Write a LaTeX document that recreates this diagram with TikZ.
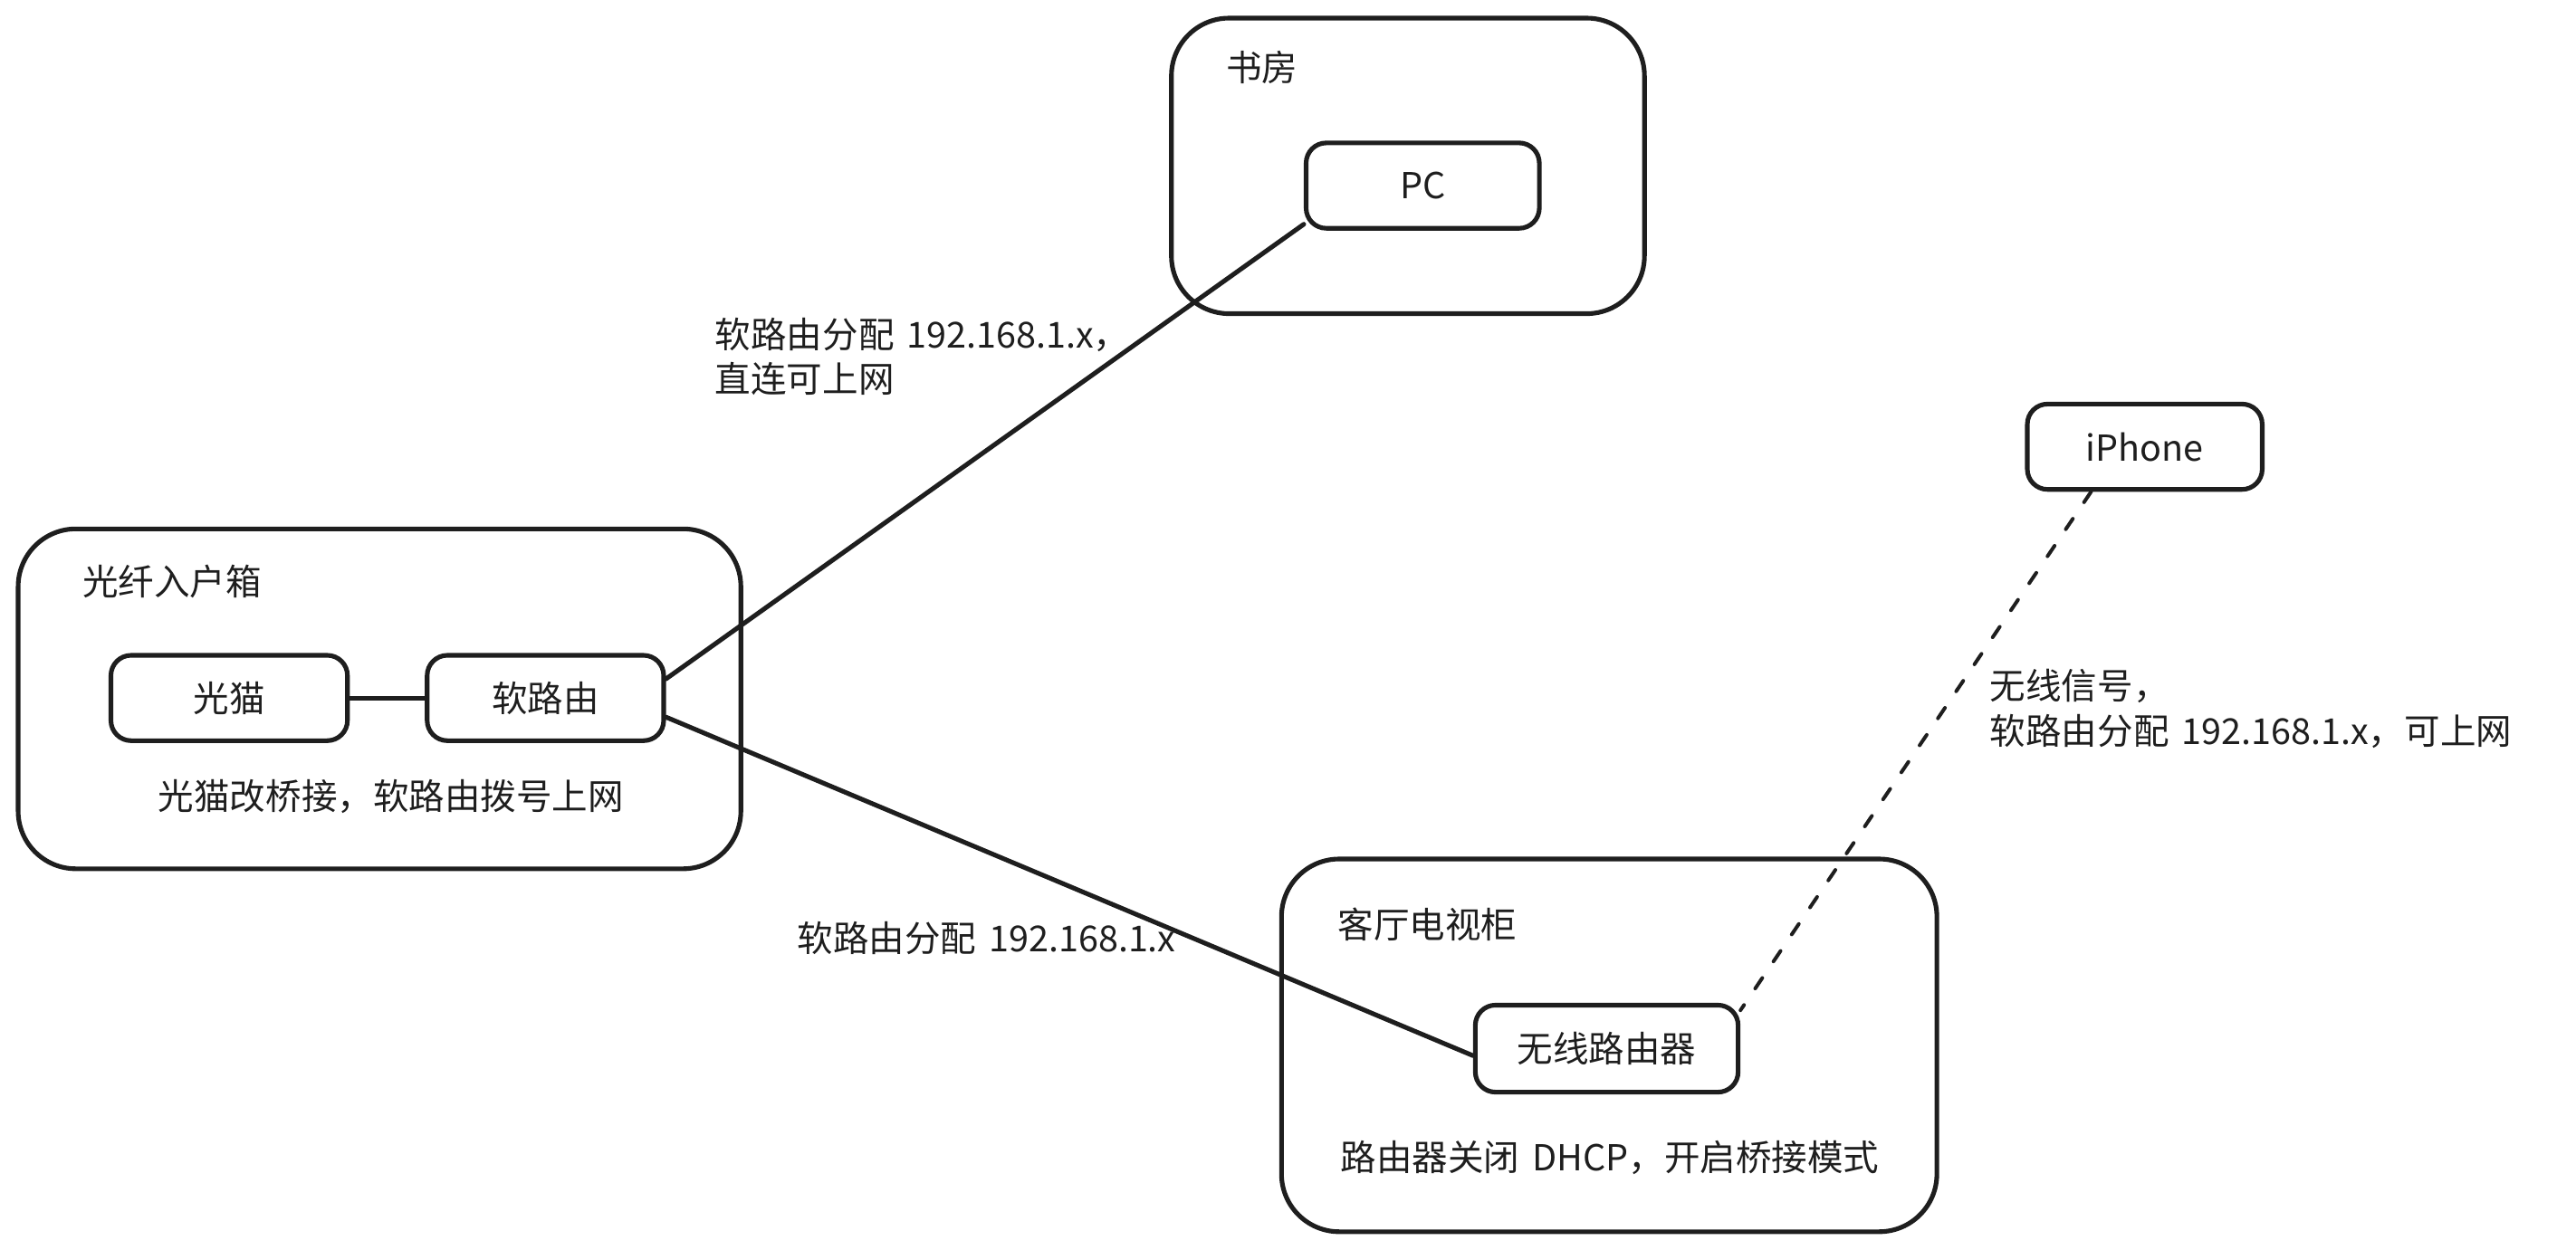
\documentclass[tikz,border=0pt]{standalone}
\usepackage{fontspec}
\setmainfont[WordSpace=1.6]{Noto Sans CJK SC}
\usetikzlibrary{positioning}
\definecolor{inkcolor}{HTML}{1E1E1E}
\tikzset{
      link/.style = {draw=inkcolor, line width=1.6pt, line cap=round},   % <--- solid cable
     radio/.style = {link, line width=1.25pt, dash pattern=on 4.4pt off 6.9pt},
      base/.style = {draw=inkcolor, line width=1.6pt, font=\fontsize{12.4}{15}\selectfont, text=inkcolor},
    device/.style = {base, rounded corners=7pt, minimum width=#1, minimum height=1.04cm, align=center},
    device/.default=2.88cm,
      room/.style = {draw=inkcolor, line width=1.6pt, rounded corners=20pt},
      note/.style = {font=\fontsize{12.4}{15.6}\selectfont, text=inkcolor, align=left, inner sep=0pt},
}
\begin{document}
\begin{tikzpicture}[x=0.02cm,y=-0.02cm]
  \useasboundingbox (0,0) rectangle (1568,761.1);
  % rooms
  \node[room, minimum width=8.8cm, minimum height=4.14cm] (fibrebox) at (231,425.5) {};
  \node[room, minimum width=5.76cm, minimum height=3.6cm] (study) at (857,101) {};
  \node[room, minimum width=7.98cm, minimum height=4.54cm] (tvstand) at (979.5,636.5) {};
  % devices
  \node[device] (modem) at (139.5,425) {光猫};
  \node[device] (softrouter) at (332,425) {软路由};
  \node[device=2.84cm] (pc) at (866,113) {PC};
  \node[device=2.86cm] (iphone) at (1305.5,272) {iPhone};
  \node[device=3.2cm, minimum height=1.06cm] (wifirouter) at (978,638.5) {无线路由器};
  % notes
  \node[note, anchor=west] (fibretitle) at (50,354) {光纤入户箱};
  \node[note] (fibrenote) at (238,485) {光猫改桥接^^^^ff0c软路由拨号上网};
  \node[note, anchor=west] (studytitle) at (746,41) {书房};
  \node[note, anchor=west] (tvtitle) at (814,563) {客厅电视柜};
  \node[note] (tvnote) at (980,705) {路由器关闭 DHCP^^^^ff0c开启桥接模式};
  \node[note, anchor=north west] (pclabel) at (435,193) {软路由分配 192.168.1.x^^^^ff0c\\直连可上网};
  \node[note, anchor=west] (tvlabel) at (485,571) {软路由分配 192.168.1.x};
  \node[note, anchor=north west] (phonelabel) at (1211,407) {无线信号^^^^ff0c\\软路由分配 192.168.1.x^^^^ff0c可上网};
  % cables
  \draw[link] (modem) -- (softrouter);
  \draw[link] (softrouter.9) -- (pc.198);
  \draw[link] (softrouter.-9) -- (wifirouter.183);
  \draw[radio] (iphone.220) -- (wifirouter.16);
\end{tikzpicture}
\end{document}
